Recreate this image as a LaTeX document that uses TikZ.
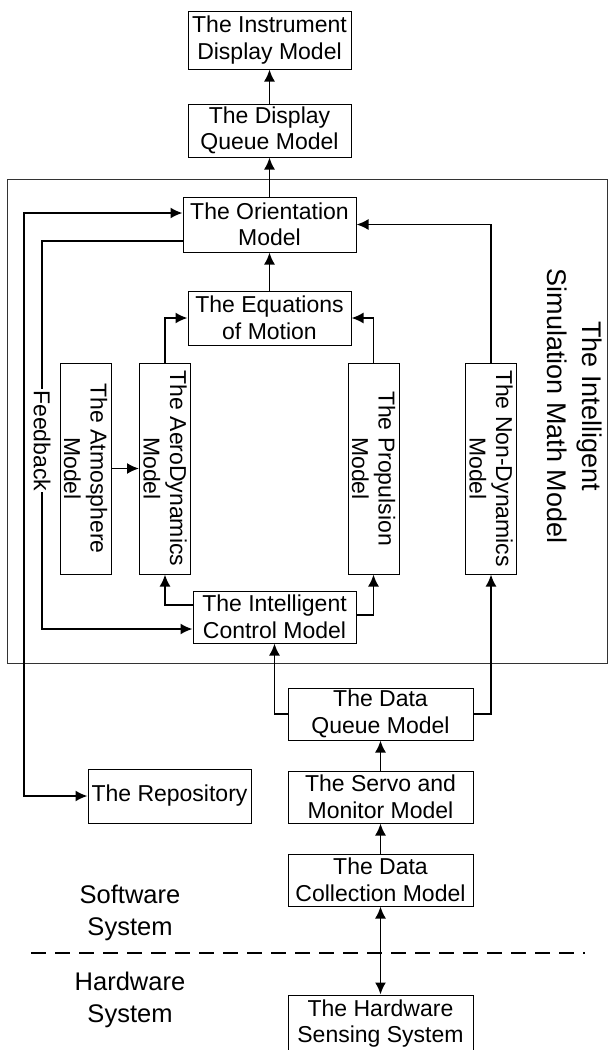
\documentclass[tikz,border=0pt]{standalone}
\usepackage{fontspec}
\setmainfont{Liberation Sans}
\usetikzlibrary{arrows,arrows.meta,shapes}
\usetikzlibrary{positioning}
\definecolor{fg}{rgb}{0,0,0}
\definecolor{framecol}{rgb}{0.2,0.2,0.2}
\tikzstyle{box}=[draw=fg, line width=1pt, inner sep=0pt, align=center,
text=fg, minimum width=163pt, minimum height=53pt, font=\fontsize{23}{26.5}\selectfont]
\tikzstyle{wbox}=[box, minimum width=185pt, minimum height=52pt]
\tikzstyle{vbox}=[box, rotate=-90, minimum width=211pt, minimum height=51pt]
\tikzstyle{myarrow}=[->, >={Latex[length=12pt,width=11pt]}, line width=1.8pt]
\tikzstyle{lbl}=[align=center, text=fg, font=\fontsize{25.5}{32}\selectfont]

\begin{document}
\begin{tikzpicture}[x=1pt, y=-1pt, node distance=30pt]
    \useasboundingbox (0,0) rectangle (608,1050);

    \node[box, minimum height=58pt] (instr) at (269.5,40) {The Instrument\\Display Model} ;
    \node[box, below=34pt of instr] (dispq) {The Display\\Queue Model} ;
    \draw[myarrow] (dispq) -- (instr) ;

    % math model frame
    \draw[draw=framecol, line width=1pt] (7,179) rectangle (607,663) ;
    \node[lbl, rotate=-90, font=\fontsize{27}{35}\selectfont] (title) at (575,406) {The Intelligent\\Simulation Math Model} ;

    \node[box, minimum width=173pt, minimum height=55pt] (orient) at (269.5,224.5) {The Orientation\\Model} ;
    \draw[myarrow] (orient) -- (dispq) ;

    \node[box, minimum height=54pt, below=38pt of orient] (eqm) {The Equations\\of Motion} ;
    \draw[myarrow] (eqm) -- (orient) ;

    % rotated nodes: west is top, east is bottom, north is right
    \node[vbox] (atmos) at (85.5,468.5) {The Atmosphere\\Model} ;
    \node[vbox] (aero) at (165,468.5) {The AeroDynamics\\Model} ;
    \node[vbox] (prop) at (373.5,468.5) {The Propulsion\\Model} ;
    \node[vbox] (nondyn) at (491,468.5) {The Non-Dynamics\\Model} ;
    \draw[myarrow] (atmos.north) -- (aero.south) ;
    \draw[myarrow] (aero.west) |- (eqm.west) ;
    \draw[myarrow] (prop.west) |- (eqm.east) ;
    \draw[myarrow] (nondyn.west) |- (orient.east) ;

    \node[box, minimum height=52pt] (ctrl) at (274.5,617) {The Intelligent\\Control Model} ;
    \draw[myarrow] ([yshift=12pt]ctrl.west) -| (aero.east) ;
    \draw[myarrow] ([yshift=2pt]ctrl.east) -| (prop.east) ;

    \coordinate (fbtop) at (42,241) ;
    \coordinate (fbbot) at (42,629) ;
    \draw[myarrow] ([yshift=-16.5pt]orient.west) -- (fbtop) -- node[pos=0.515, fill=white, rotate=-90, inner sep=1pt, font=\fontsize{23}{26.5}\selectfont] (fb) {Feedback} (fbbot) -- ([yshift=-12pt]ctrl.west) ;

    \node[wbox] (dataq) at (380.5,714) {The Data\\Queue Model} ;
    \draw[myarrow] (dataq.west) -| (ctrl.south) ;
    \draw[myarrow] (dataq.east) -| (nondyn.east) ;

    \node[wbox, below=of dataq] (servo) {The Servo and\\Monitor Model} ;
    \draw[myarrow] (servo) -- (dataq) ;

    \node[wbox, below=of servo] (dcoll) {The Data\\Collection Model} ;
    \draw[myarrow] (dcoll) -- (servo) ;

    \node[box, minimum height=54pt] (repo) at (169.5,796) {The Repository} ;
    \coordinate (loop) at (24,796) ;
    \draw[myarrow, <->] ([yshift=11.5pt]orient.west) -| (loop) -- (repo.west) ;

    % software / hardware split
    \draw[line width=1.8pt, dash pattern=on 15pt off 9pt] (31,953) -- (585,953) ;
    \node[lbl] (sw) at (130,913) {Software\\System} ;
    \node[lbl] (hw) at (130,1000) {Hardware\\System} ;

    \node[wbox, minimum height=57pt, below=88pt of dcoll] (hws) {The Hardware\\Sensing System} ;
    \draw[myarrow, <->] (dcoll) -- (hws) ;
\end{tikzpicture}
\end{document}
